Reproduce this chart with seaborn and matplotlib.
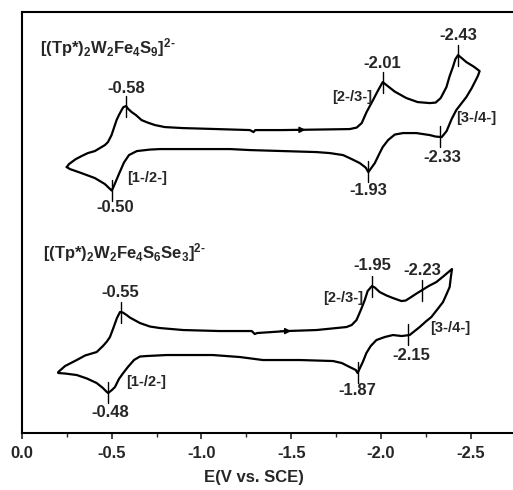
"""
Cyclic voltammograms of [(Tp*)2W2Fe4S9]2- and [(Tp*)2W2Fe4S6Se3]2-
(arbitrary current units, curves offset vertically).
"""

import numpy as np
import matplotlib
matplotlib.use("Agg")
import matplotlib.pyplot as plt
import seaborn as sns

# ── Data: S9 cluster (forward scan = upper branch, return = lower) ───────────
S9_FWD_E = [-0.249, -0.262, -0.277, -0.30, -0.332, -0.367, -0.406, -0.434, -0.462, -0.479,
            -0.499, -0.512, -0.527, -0.54, -0.555, -0.565, -0.58, -0.59, -0.611, -0.635,
            -0.666, -0.70, -0.741, -0.796, -0.896, -1.086, -1.27, -1.29, -1.30, -1.45,
            -1.64, -1.826, -1.865, -1.893, -1.92, -1.956, -1.982, -2.01, -2.038, -2.077,
            -2.142, -2.205, -2.272, -2.305, -2.333, -2.365, -2.383, -2.401, -2.415, -2.43,
            -2.45, -2.476, -2.517, -2.55]
S9_FWD_I = [26.6, 26.9, 27.1, 27.4, 27.7, 28.0, 28.2, 28.5, 28.8, 29.1,
            29.8, 30.5, 31.3, 31.8, 32.3, 32.6, 32.7, 32.45, 32.1, 31.8,
            31.3, 31.05, 30.8, 30.6, 30.5, 30.4, 30.3, 30.1, 30.3, 30.3,
            30.35, 30.4, 30.55, 31.0, 32.1, 33.3, 34.2, 35.1, 34.7, 34.15,
            33.5, 33.1, 33.0, 33.05, 33.5, 34.6, 35.7, 36.6, 37.4, 37.8,
            37.5, 37.1, 36.65, 36.2]
S9_REV_E = [-2.54, -2.506, -2.476, -2.45, -2.42, -2.394, -2.366, -2.339, -2.305, -2.272,
            -2.198, -2.123, -2.077, -2.04, -2.01, -1.993, -1.966, -1.93, -1.915, -1.882,
            -1.837, -1.789, -1.715, -1.641, -1.455, -1.27, -1.16, -0.77, -0.713, -0.64,
            -0.596, -0.568, -0.54, -0.512, -0.50, -0.485, -0.462, -0.406, -0.323, -0.267,
            -0.249]
S9_REV_I = [35.7, 34.5, 33.6, 33.0, 32.3, 31.4, 30.2, 29.6, 29.65, 29.8,
            30.0, 30.0, 29.85, 29.3, 28.6, 28.0, 27.0, 26.1, 26.55, 27.0,
            27.4, 27.8, 28.0, 28.1, 28.2, 28.3, 28.4, 28.4, 28.35, 28.2,
            27.8, 27.05, 25.9, 24.7, 24.25, 24.5, 24.9, 25.5, 26.05, 26.4,
            26.6]
S9_PEAKS_FWD = [-0.58, -2.01, -2.43]
S9_PEAKS_REV = [-0.50, -2.33, -1.93]
S9_ARROW_E = -1.55

# ── Data: S6Se3 cluster ───────────────────────────────────────────────────────
SE_FWD_E = [-0.202, -0.24, -0.305, -0.351, -0.416, -0.451, -0.473, -0.49, -0.507, -0.529,
            -0.546, -0.562, -0.583, -0.601, -0.657, -0.713, -0.768, -0.898, -1.10, -1.28,
            -1.297, -1.31, -1.475, -1.641, -1.808, -1.837, -1.864, -1.888, -1.91, -1.926,
            -1.95, -1.966, -1.993, -2.032, -2.067, -2.114, -2.138, -2.16, -2.194, -2.23,
            -2.266, -2.309, -2.35, -2.396]
SE_FWD_I = [6.1, 6.7, 7.3, 7.75, 8.1, 8.7, 9.15, 9.6, 10.4, 11.5,
            12.1, 12.05, 11.8, 11.55, 11.0, 10.65, 10.5, 10.3, 10.2, 10.2,
            9.9, 10.0, 10.2, 10.3, 10.6, 10.8, 11.3, 12.3, 13.3, 14.2,
            14.7, 14.55, 14.1, 13.75, 13.5, 13.2, 13.25, 13.5, 13.9, 14.3,
            14.7, 15.1, 15.7, 16.4]
SE_REV_E = [-2.389, -2.383, -2.366, -2.346, -2.316, -2.281, -2.25, -2.216, -2.188, -2.16,
            -2.116, -2.067, -2.021, -1.975, -1.943, -1.919, -1.899, -1.87, -1.86, -1.826,
            -1.782, -1.733, -1.548, -1.342, -1.214, -1.063, -0.806, -0.694, -0.657, -0.624,
            -0.59, -0.564, -0.54, -0.518, -0.501, -0.48, -0.47, -0.451, -0.416, -0.362,
            -0.305, -0.24, -0.202]
SE_REV_I = [15.5, 14.6, 13.9, 13.1, 12.4, 11.6, 11.15, 10.6, 10.2, 9.8,
            9.7, 9.8, 9.6, 9.3, 8.7, 8.0, 7.1, 6.0, 6.3, 6.6,
            7.0, 7.2, 7.3, 7.3, 7.6, 7.8, 7.8, 7.7, 7.65, 7.3,
            6.6, 6.0, 5.4, 4.6, 4.3, 4.0, 4.15, 4.5, 5.0, 5.45,
            5.8, 5.95, 6.0]
SE_PEAKS_FWD = [-0.55, -1.95, -2.23]
SE_PEAKS_REV = [-0.48, -2.15, -1.87]
SE_ARROW_E = -1.47

X_TICKS = [0.0, -0.5, -1.0, -1.5, -2.0, -2.5]
X_LABEL = "E(V vs. SCE)"
TITLE_S9 = r"[(Tp*)$_\mathbf{2}$W$_\mathbf{2}$Fe$_\mathbf{4}$S$_\mathbf{9}$]$^\mathbf{2\text{-}}$"
TITLE_SE = (r"[(Tp*)$_\mathbf{2}$W$_\mathbf{2}$Fe$_\mathbf{4}$S$_\mathbf{6}$"
            r"Se$_\mathbf{3}$]$^\mathbf{2\text{-}}$")
COUPLES = ["[1-/2-]", "[2-/3-]", "[3-/4-]"]

# ── Style ─────────────────────────────────────────────────────────────────────
sns.set_style("ticks")
plt.rcParams["font.family"] = ["Liberation Sans", "DejaVu Sans"]
plt.rcParams["mathtext.fontset"] = "custom"
plt.rcParams["mathtext.rm"] = "Liberation Sans:bold"
plt.rcParams["mathtext.bf"] = "Liberation Sans:bold"
plt.rcParams["mathtext.it"] = "Liberation Sans:bold"

fig = plt.figure(figsize=(5.13, 4.90), dpi=100)
ax = fig.add_axes([0.0429, 0.1163, 0.955, 0.859])


def level_at(e, branch_e, branch_i):
    """Current read on one branch at potential e."""
    xs = np.asarray(branch_e)
    ys = np.asarray(branch_i)
    order = np.argsort(xs)
    return np.interp(e, xs[order], ys[order])


def draw_cv(fwd_e, fwd_i, rev_e, rev_i, peaks_fwd, peaks_rev, arrow_e):
    loop_e = list(fwd_e) + list(rev_e)
    loop_i = list(fwd_i) + list(rev_i)
    sns.lineplot(x=loop_e, y=loop_i, sort=False, estimator=None,
                 color="black", lw=1.6, ax=ax)
    # short vertical bars marking the peak potentials
    for pe in peaks_fwd:
        lvl = level_at(pe, fwd_e, fwd_i)
        ax.plot([pe, pe], [lvl - 1.1, lvl + 1.0], color="black", lw=1.0)
    for pe in peaks_rev:
        lvl = level_at(pe, rev_e, rev_i)
        ax.plot([pe, pe], [lvl - 1.0, lvl + 1.1], color="black", lw=1.0)
    # scan direction arrow
    lvl = level_at(arrow_e, fwd_e, fwd_i)
    ax.annotate("", xy=(arrow_e - 0.03, lvl), xytext=(arrow_e + 0.03, lvl),
                arrowprops=dict(arrowstyle="-|>", color="black", lw=1.0,
                                mutation_scale=9, shrinkA=0, shrinkB=0))


draw_cv(S9_FWD_E, S9_FWD_I, S9_REV_E, S9_REV_I, S9_PEAKS_FWD, S9_PEAKS_REV, S9_ARROW_E)
draw_cv(SE_FWD_E, SE_FWD_I, SE_REV_E, SE_REV_I, SE_PEAKS_FWD, SE_PEAKS_REV, SE_ARROW_E)

# ── Annotations ───────────────────────────────────────────────────────────────
bold = dict(fontweight="bold", va="center")
peak_fs = 12
couple_fs = 10.5
ax.text(-0.10, 38.6, TITLE_S9, fontsize=12, ha="left", **bold)
ax.text(-0.117, 18.1, TITLE_SE, fontsize=12, ha="left", **bold)

# S9 peak labels
ax.text(S9_PEAKS_FWD[0], 34.5, f"{S9_PEAKS_FWD[0]:.2f}", fontsize=peak_fs, ha="center", **bold)
ax.text(S9_PEAKS_FWD[1], 37.0, f"{S9_PEAKS_FWD[1]:.2f}", fontsize=peak_fs, ha="center", **bold)
ax.text(S9_PEAKS_FWD[2], 39.8, f"{S9_PEAKS_FWD[2]:.2f}", fontsize=peak_fs, ha="center", **bold)
ax.text(S9_PEAKS_REV[0] - 0.02, 22.6, f"{S9_PEAKS_REV[0]:.2f}", fontsize=peak_fs, ha="center", **bold)
ax.text(S9_PEAKS_REV[1] - 0.01, 27.6, f"{S9_PEAKS_REV[1]:.2f}", fontsize=peak_fs, ha="center", **bold)
ax.text(S9_PEAKS_REV[2], 24.3, f"{S9_PEAKS_REV[2]:.2f}", fontsize=peak_fs, ha="center", **bold)
ax.text(-0.585, 25.5, COUPLES[0], fontsize=couple_fs, ha="left", **bold)
ax.text(-1.95, 33.6, COUPLES[1], fontsize=couple_fs, ha="right", **bold)
ax.text(-2.42, 31.5, COUPLES[2], fontsize=couple_fs, ha="left", **bold)

# S6Se3 peak labels
ax.text(SE_PEAKS_FWD[0], 14.1, f"{SE_PEAKS_FWD[0]:.2f}", fontsize=peak_fs, ha="center", **bold)
ax.text(SE_PEAKS_FWD[1], 16.8, f"{SE_PEAKS_FWD[1]:.2f}", fontsize=peak_fs, ha="center", **bold)
ax.text(SE_PEAKS_FWD[2], 16.3, f"{SE_PEAKS_FWD[2]:.2f}", fontsize=peak_fs, ha="center", **bold)
ax.text(SE_PEAKS_REV[0] - 0.01, 2.1, f"{SE_PEAKS_REV[0]:.2f}", fontsize=peak_fs, ha="center", **bold)
ax.text(SE_PEAKS_REV[1] - 0.02, 7.8, f"{SE_PEAKS_REV[1]:.2f}", fontsize=peak_fs, ha="center", **bold)
ax.text(SE_PEAKS_REV[2], 4.3, f"{SE_PEAKS_REV[2]:.2f}", fontsize=peak_fs, ha="center", **bold)
ax.text(-0.579, 5.1, COUPLES[0], fontsize=couple_fs, ha="left", **bold)
ax.text(-1.90, 13.5, COUPLES[1], fontsize=couple_fs, ha="right", **bold)
ax.text(-2.272, 10.5, COUPLES[2], fontsize=couple_fs, ha="left", **bold)

# ── Axes ──────────────────────────────────────────────────────────────────────
ax.set_xlim(0.0, -2.73)
ax.set_ylim(0.0, 42.1)
ax.set_xticks(X_TICKS)
ax.set_xticks(np.arange(-0.25, -2.75, -0.5), minor=True)
ax.set_xticklabels([f"{t:.1f}" for t in X_TICKS], fontsize=12, fontweight="bold")
ax.set_yticks([])
ax.set_xlabel(X_LABEL, fontsize=12, fontweight="bold")
ax.xaxis.set_label_coords(0.473, -0.088)
ax.tick_params(axis="x", which="major", direction="out", length=4, width=1.2, pad=5)
ax.tick_params(axis="x", which="minor", direction="out", length=3, width=1.0)
for side in ["left", "top", "bottom"]:
    ax.spines[side].set_linewidth(1.5)
    ax.spines[side].set_color("black")
ax.spines["right"].set_visible(False)

plt.savefig("out.png", dpi=100)
plt.close()
